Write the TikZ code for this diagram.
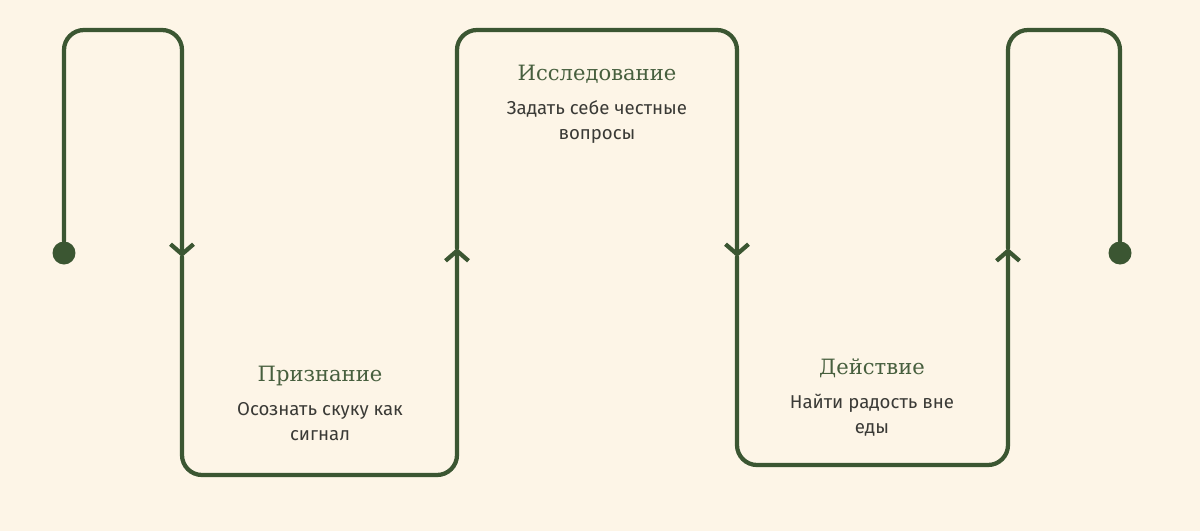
\documentclass[tikz,border=0pt]{standalone}
\usepackage{fontspec}
\setmainfont{Fira Sans}
\newfontfamily\titlefont{DejaVu Serif}
\usetikzlibrary{arrows.meta}
\usetikzlibrary{positioning}
\definecolor{cream}{HTML}{FDF5E7}
\definecolor{pathgreen}{HTML}{3B5632}
\definecolor{titlegreen}{HTML}{475F3E}
\definecolor{bodytext}{HTML}{3A3A36}

\tikzset{
  flow/.style={draw=pathgreen, line width=0.085cm, rounded corners=0.4cm, line cap=round},
  chevron/.style={-{Straight Barb[length=0.2cm, width=0.46cm]}},
  enddot/.style={circle, fill=pathgreen, minimum size=0.46cm, inner sep=0pt},
  stagetitle/.style={font=\titlefont\fontsize{12}{14}\selectfont, text=titlegreen, inner sep=0pt},
  stagetext/.style={font=\fontsize{10.6}{14.2}\selectfont, text=bodytext, align=center, inner sep=0pt},
}

\begin{document}
\begin{tikzpicture}[x=0.02cm, y=-0.02cm]
    \fill[cream] (0,0) rectangle (1200,531);
    \useasboundingbox (0,0) rectangle (1200,531);

    \node[enddot] (start) at (64,253) {};
    \node[enddot] (finish) at (1120,253) {};

    % corners of the meander
    \coordinate (c1) at (64,30);
    \coordinate (c2) at (182,30);
    \coordinate (c3) at (182,475);
    \coordinate (c4) at (457,475);
    \coordinate (c5) at (457,30);
    \coordinate (c6) at (737,30);
    \coordinate (c7) at (737,465);
    \coordinate (c8) at (1008,465);
    \coordinate (c9) at (1008,30);
    \coordinate (c10) at (1120,30);

    % where the chevrons sit
    \coordinate (a1) at (182,257);
    \coordinate (a2) at (457,248);
    \coordinate (a3) at (737,257);
    \coordinate (a4) at (1008,248);

    \draw[flow, chevron] (start) -- (c1) -- (c2) -- (a1);
    \draw[flow, chevron] (a1) -- (c3) -- (c4) -- (a2);
    \draw[flow, chevron] (a2) -- (c5) -- (c6) -- (a3);
    \draw[flow, chevron] (a3) -- (c7) -- (c8) -- (a4);
    \draw[flow] (a4) -- (c9) -- (c10) -- (finish);

    \node[stagetitle] (recog) at (320,376) {Признание};
    \node[stagetext, below=0.52cm of recog.center, anchor=north] (recogtext) {Осознать скуку как\\сигнал};

    \node[stagetitle] (explore) at (597,74) {Исследование};
    \node[stagetext, below=0.52cm of explore.center, anchor=north] (exploretext) {Задать себе честные\\вопросы};

    \node[stagetitle] (act) at (872,368) {Действие};
    \node[stagetext, below=0.52cm of act.center, anchor=north] (acttext) {Найти радость вне\\еды};
\end{tikzpicture}
\end{document}
